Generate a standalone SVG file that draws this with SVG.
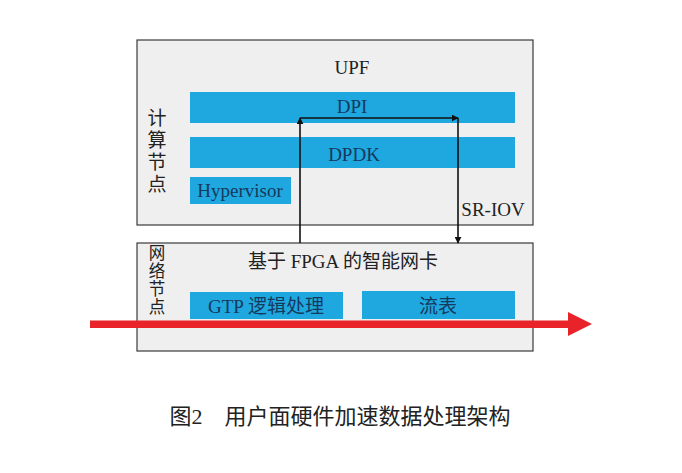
<svg xmlns="http://www.w3.org/2000/svg" width="682" height="473" viewBox="0 0 682 473">
<style>
.box{fill:#efefef;stroke:#3a3a3a;stroke-width:1.2}
.bar{fill:#1fa8e0}
.t{font-family:"Liberation Serif","Noto Sans CJK SC",serif;fill:#222;text-anchor:middle}
.bt{font-family:"Liberation Serif","Noto Sans CJK SC",serif;fill:#16395e;text-anchor:middle}
.con{stroke:#111;stroke-width:1.6;fill:none}
</style>
<defs>
<marker id="ah" viewBox="0 0 10 10" refX="9" refY="5" markerWidth="7" markerHeight="7" orient="auto" markerUnits="userSpaceOnUse"><path d="M0,0 L10,5 L0,10 z" fill="#111"/></marker>
</defs>
<rect width="682" height="473" fill="#fff"/>
<g id="compute">
<rect class="box" x="137" y="40" width="396" height="185"/>
<text class="t" x="352" y="74" font-size="19">UPF</text>
<text class="t" font-size="19"><tspan x="157" y="125">计</tspan><tspan x="157" y="147">算</tspan><tspan x="157" y="169">节</tspan><tspan x="157" y="191">点</tspan></text>
<text class="t" x="493" y="216" font-size="19">SR-IOV</text>
</g>
<g id="dpi"><rect class="bar" x="190" y="92" width="325" height="31"/><text class="bt" x="352" y="113" font-size="19">DPI</text></g>
<g id="dpdk"><rect class="bar" x="190" y="137" width="325" height="31"/><text class="bt" x="354" y="161" font-size="19">DPDK</text></g>
<g id="hypervisor"><rect class="bar" x="190" y="177" width="101" height="27"/><text class="bt" x="240" y="197" font-size="19">Hypervisor</text></g>
<g id="network">
<rect class="box" x="137" y="243" width="396" height="108"/>
<text class="t" x="343" y="268" font-size="19">基于 FPGA 的智能网卡</text>
<text class="t" font-size="16.5"><tspan x="157" y="259">网</tspan><tspan x="157" y="277">络</tspan><tspan x="157" y="295">节</tspan><tspan x="157" y="313">点</tspan></text>
</g>
<g id="gtp"><rect class="bar" x="190" y="292" width="153" height="27"/><text class="bt" x="266" y="313" font-size="19">GTP 逻辑处理</text></g>
<g id="flow"><rect class="bar" x="362" y="291" width="153" height="28"/><text class="bt" x="438" y="313" font-size="19">流表</text></g>
<g id="connectors">
<line class="con" x1="300" y1="243" x2="300" y2="118" marker-end="url(#ah)"/>
<line class="con" x1="300" y1="118" x2="458" y2="118" marker-end="url(#ah)"/>
<line class="con" x1="458" y1="118" x2="458" y2="243" marker-end="url(#ah)"/>
<path d="M90,320.5 H568 V312 L592,324 L568,336 V328 H90 Z" fill="#e8232a"/>
</g>
<text class="t" x="340" y="424" font-size="22">图2　用户面硬件加速数据处理架构</text>
</svg>
